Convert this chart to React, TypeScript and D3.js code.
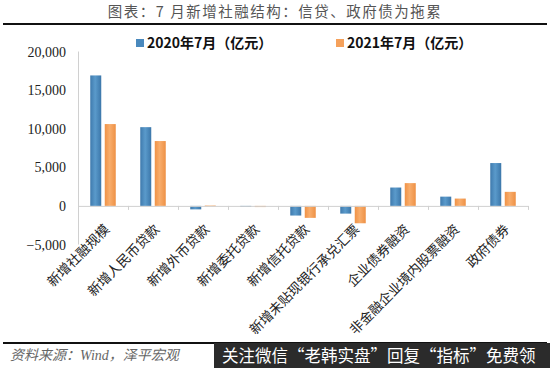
import React from "react";
import * as d3 from "d3";

const categories = [
  "新增社融规模",
  "新增人民币贷款",
  "新增外币贷款",
  "新增委托贷款",
  "新增信托贷款",
  "新增未贴现银行承兑汇票",
  "企业债券融资",
  "非金融企业境内股票融资",
  "政府债券",
];
const series2020 = [16900, 10200, -450, -130, -1250, -1000, 2380, 1200, 5550];
const series2021 = [10600, 8400, 40, -150, -1550, -2250, 2950, 950, 1820];
const seriesNames = ["2020年7月（亿元）", "2021年7月（亿元）"];
const yTicks = [-5000, 0, 5000, 10000, 15000, 20000];

const W = 550;
const H = 368;

export default function App() {
  const x = d3.scaleBand<string>().domain(categories).range([78, 528]);
  const y = d3.scaleLinear().domain([-5000, 20000]).range([244.5, 51.5]);
  const fmt = d3.format(",");
  const barW = 11;
  const gap = 3.5;
  const colors = ["#4a89bd", "#f5a15b"];
  const serif = "'Liberation Serif', 'DejaVu Serif', serif";
  const cjkSerif = "'Liberation Serif', 'Noto Sans CJK SC', serif";

  return (
    <svg
      width={W}
      height={H}
      style={{ position: "absolute", left: 0, top: 0, background: "#fff" }}
    >
      <defs>
        <linearGradient id="gBlue" x1="0" x2="1" y1="0" y2="0">
          <stop offset="0" stopColor="#3f7aad" />
          <stop offset="0.45" stopColor="#5a9acb" />
          <stop offset="1" stopColor="#3c77aa" />
        </linearGradient>
        <linearGradient id="gOrange" x1="0" x2="1" y1="0" y2="0">
          <stop offset="0" stopColor="#f09246" />
          <stop offset="0.45" stopColor="#f8ad6c" />
          <stop offset="1" stopColor="#ee9145" />
        </linearGradient>
      </defs>
      {/* Title */}
      <text
        x={W / 2}
        y={17}
        textAnchor="middle"
        fontSize={14.5}
        fill="#555"
        fontFamily="'Noto Sans CJK SC', sans-serif"
        letterSpacing={1.5}
      >
        图表：7 月新增社融结构：信贷、政府债为拖累
      </text>
      <line x1={3} x2={547} y1={24} y2={24} stroke="#111" strokeWidth={2} />

      {/* Legend */}
      <rect x={136} y={39} width={8} height={8} fill={colors[0]} />
      <text x={147} y={48} fontSize={14} fontWeight="bold" fill="#111" fontFamily="'Noto Sans CJK SC', sans-serif">
        {seriesNames[0]}
      </text>
      <rect x={336} y={39} width={8} height={8} fill={colors[1]} />
      <text x={347} y={48} fontSize={14} fontWeight="bold" fill="#111" fontFamily="'Noto Sans CJK SC', sans-serif">
        {seriesNames[1]}
      </text>

      {/* Y axis */}
      <line x1={78.5} x2={78.5} y1={y(20000)} y2={y(-5000)} stroke="#d0d0d0" />
      {yTicks.map((t) => (
        <text
          key={t}
          x={66}
          y={y(t) + 5}
          textAnchor="end"
          fontSize={14}
          fill="#222"
          fontFamily={serif}
        >
          {t === 0 ? "0" : fmt(t)}
        </text>
      ))}

      {/* Bars */}
      {categories.map((c, i) => {
        const cx = (x(c) as number) + x.bandwidth() / 2;
        const vals = [series2020[i], series2021[i]];
        return vals.map((v, k) => {
          const bx = k === 0 ? cx - gap / 2 - barW : cx + gap / 2;
          const y0 = y(0);
          const y1 = y(v);
          return (
            <rect
              key={c + k}
              x={bx}
              y={Math.min(y0, y1)}
              width={barW}
              height={Math.max(Math.abs(y1 - y0), 0.8)}
              fill={k === 0 ? "url(#gBlue)" : "url(#gOrange)"}
            />
          );
        });
      })}

      {/* X axis */}
      <line x1={78} x2={528} y1={y(0) + 0.5} y2={y(0) + 0.5} stroke="#d0d0d0" />
      {categories.map((c, i) => (
        <line
          key={"t" + i}
          x1={(x(c) as number) + x.bandwidth() + 0.5}
          x2={(x(c) as number) + x.bandwidth() + 0.5}
          y1={y(0)}
          y2={y(0) + 4}
          stroke="#d0d0d0"
        />
      ))}
      {categories.map((c) => {
        const cx = (x(c) as number) + x.bandwidth() / 2 + 4;
        const ty = y(0) + 21;
        return (
          <text
            key={"l" + c}
            transform={`translate(${cx},${ty}) rotate(-45)`}
            textAnchor="end"
            fontSize={13.5}
            fill="#222"
            fontFamily={cjkSerif}
            dy="0.35em"
          >
            {c}
          </text>
        );
      })}

      {/* Footer */}
      <line x1={3} x2={547} y1={343} y2={343} stroke="#111" strokeWidth={2} />
      <text
        x={10}
        y={360}
        fontSize={14}
        fill="#666"
        fontStyle="italic"
        fontFamily={cjkSerif}
      >
        资料来源：Wind，泽平宏观
      </text>
      <rect x={214} y={343} width={336} height={25} fill="#2b2b2b" />
      <text
        x={222}
        y={362}
        fontSize={16.5}
        fill="#fff"
        fontFamily="'Noto Sans CJK SC', sans-serif"
      >
        关注微信“老韩实盘”回复“指标”免费领
      </text>
    </svg>
  );
}
